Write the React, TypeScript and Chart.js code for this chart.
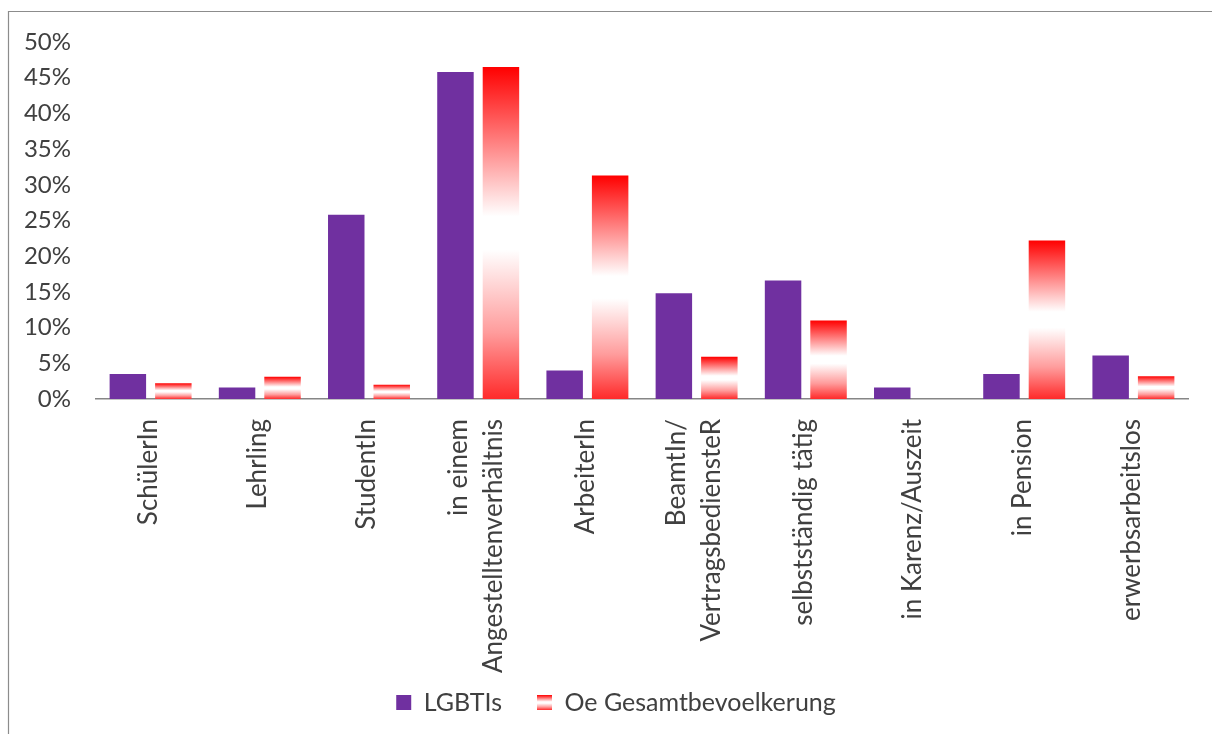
import React, { useEffect, useRef } from 'react';
import { Chart, registerables } from 'chart.js';

Chart.register(...registerables);

// Occupational status, share in percent
const categories: (string | string[])[] = [
  'SchülerIn',
  'Lehrling',
  'StudentIn',
  ['in einem', 'Angestelltenverhältnis'],
  'ArbeiterIn',
  ['BeamtIn/', 'VertragsbediensteR'],
  'selbstständig tätig',
  'in Karenz/Auszeit',
  'in Pension',
  'erwerbsarbeitslos',
];
const seriesNames = ['LGBTIs', 'Oe Gesamtbevoelkerung'];
const lgbtiValues = [3.5, 1.6, 25.8, 45.8, 4.0, 14.8, 16.6, 1.6, 3.5, 6.1];
const gesamtValues = [2.2, 3.1, 2.0, 46.5, 31.3, 5.9, 11.0, 0, 22.2, 3.2];
const yMax = 50;
const yStep = 5;

const PURPLE = '#7030A0';
const RED = '#FF0000';
const TEXT = '#404040';
const FONT_FAMILY = 'Lato, "Noto Sans", sans-serif';
const Y_TICK_SIZE = 24;
const X_TICK_SIZE = 26;
const LEGEND_SIZE = 25;
const LEGEND_BOX = 15;
const LABEL_LINE = 35;
const LABEL_GAP = 20;

function redFade(ctx: CanvasRenderingContext2D, top: number, bottom: number) {
  const g = ctx.createLinearGradient(0, top, 0, bottom);
  g.addColorStop(0, '#FF0000');
  g.addColorStop(0.45, '#FFFFFF');
  g.addColorStop(0.55, '#FFFFFF');
  g.addColorStop(0.8, '#FF9C9C');
  g.addColorStop(1, '#FF2A2A');
  return g;
}

// white page plus the thin grey frame around the chart
const framePlugin = {
  id: 'frame',
  beforeDraw(chart: any) {
    const { ctx, width, height } = chart;
    ctx.save();
    ctx.fillStyle = '#FFFFFF';
    ctx.fillRect(0, 0, width, height);
    ctx.strokeStyle = '#8C8C8C';
    ctx.lineWidth = 1.2;
    ctx.beginPath();
    ctx.moveTo(8.5, height);
    ctx.lineTo(8.5, 11.5);
    ctx.lineTo(width, 11.5);
    ctx.stroke();
    ctx.restore();

    // give the second legend swatch the same red-white-red fade as its bars
    const legend = chart.legend;
    if (legend && legend.legendItems && legend.legendHitBoxes) {
      const hb = legend.legendHitBoxes[1];
      const item = legend.legendItems[1];
      if (hb && item) {
        const top = hb.top + Math.max((LEGEND_SIZE - LEGEND_BOX) / 2, 0);
        item.fillStyle = redFade(ctx, top, top + LEGEND_BOX);
      }
    }
  },
};

// vertical category labels, multi-line ones centred on their tick
const xLabelPlugin = {
  id: 'xLabels',
  afterDraw(chart: any) {
    const xs = chart.scales.x;
    const { ctx } = chart;
    ctx.save();
    ctx.font = `${X_TICK_SIZE}px ${FONT_FAMILY}`;
    ctx.fillStyle = TEXT;
    ctx.textAlign = 'right';
    ctx.textBaseline = 'middle';
    categories.forEach((lab, i) => {
      const lines = Array.isArray(lab) ? lab : [lab];
      const px = xs.getPixelForTick(i) - 2;
      ctx.save();
      ctx.translate(px, xs.top + LABEL_GAP);
      ctx.rotate(-Math.PI / 2);
      lines.forEach((ln, j) => {
        ctx.fillText(ln, 0, (j - (lines.length - 1) / 2) * LABEL_LINE);
      });
      ctx.restore();
    });
    ctx.restore();
  },
};

export default function App() {
  const canvasRef = useRef<HTMLCanvasElement | null>(null);

  useEffect(() => {
    const canvas = canvasRef.current;
    if (!canvas) return;

    const chart = new Chart(canvas, {
      type: 'bar',
      data: {
        labels: categories,
        datasets: [
          {
            label: seriesNames[0],
            data: lgbtiValues,
            backgroundColor: PURPLE,
            borderWidth: 0,
            inflateAmount: 0,
          },
          {
            label: seriesNames[1],
            data: gesamtValues,
            backgroundColor: (c: any) => {
              const chartRef = c.chart;
              const ys = chartRef.scales && chartRef.scales.y;
              if (c.type !== 'data' || !ys || !c.parsed) return RED;
              const top = ys.getPixelForValue(c.parsed.y);
              const base = ys.getPixelForValue(0);
              if (!(base - top > 0.5)) return RED;
              return redFade(chartRef.ctx, top, base);
            },
            borderWidth: 0,
            inflateAmount: 0,
          },
        ],
      },
      options: {
        animation: false,
        responsive: true,
        maintainAspectRatio: false,
        devicePixelRatio: 1,
        layout: { padding: { left: 20, right: 0, top: 42, bottom: 9 } },
        datasets: {
          bar: { categoryPercentage: 0.833, barPercentage: 0.802 },
        },
        scales: {
          x: {
            grid: { display: false, drawTicks: false },
            border: { display: true, color: '#868686', width: 1.5 },
            ticks: { display: false },
            afterFit: (s: any) => {
              s.height = 256;
            },
          },
          y: {
            min: 0,
            max: yMax,
            grid: { display: false, drawTicks: false },
            border: { display: false },
            ticks: {
              stepSize: yStep,
              padding: 25,
              color: TEXT,
              font: { family: FONT_FAMILY, size: Y_TICK_SIZE },
              callback: (v: any) => `${v}%`,
            },
            afterFit: (s: any) => {
              s.width = 76;
            },
          },
          // empty margin on the right of the plot area
          yRight: {
            position: 'right',
            grid: { display: false, drawTicks: false },
            border: { display: false },
            ticks: { display: false },
            afterFit: (s: any) => {
              s.width = 24;
            },
          },
        },
        plugins: {
          tooltip: { enabled: false },
          legend: {
            position: 'bottom',
            labels: {
              boxWidth: LEGEND_BOX,
              boxHeight: LEGEND_BOX,
              padding: 35,
              color: TEXT,
              font: { family: FONT_FAMILY, size: LEGEND_SIZE },
              generateLabels: (ch: any) =>
                Chart.defaults.plugins.legend.labels
                  .generateLabels(ch)
                  .map((it: any, i: number) => ({
                    ...it,
                    fillStyle: i === 0 ? PURPLE : RED,
                    lineWidth: 0,
                    strokeStyle: 'rgba(0,0,0,0)',
                  })),
            },
          },
        },
      },
      plugins: [framePlugin, xLabelPlugin],
    } as any);

    return () => chart.destroy();
  }, []);

  return (
    <div style={{ position: 'absolute', left: 0, top: 0, width: 1212, height: 734 }}>
      <canvas ref={canvasRef} />
    </div>
  );
}
